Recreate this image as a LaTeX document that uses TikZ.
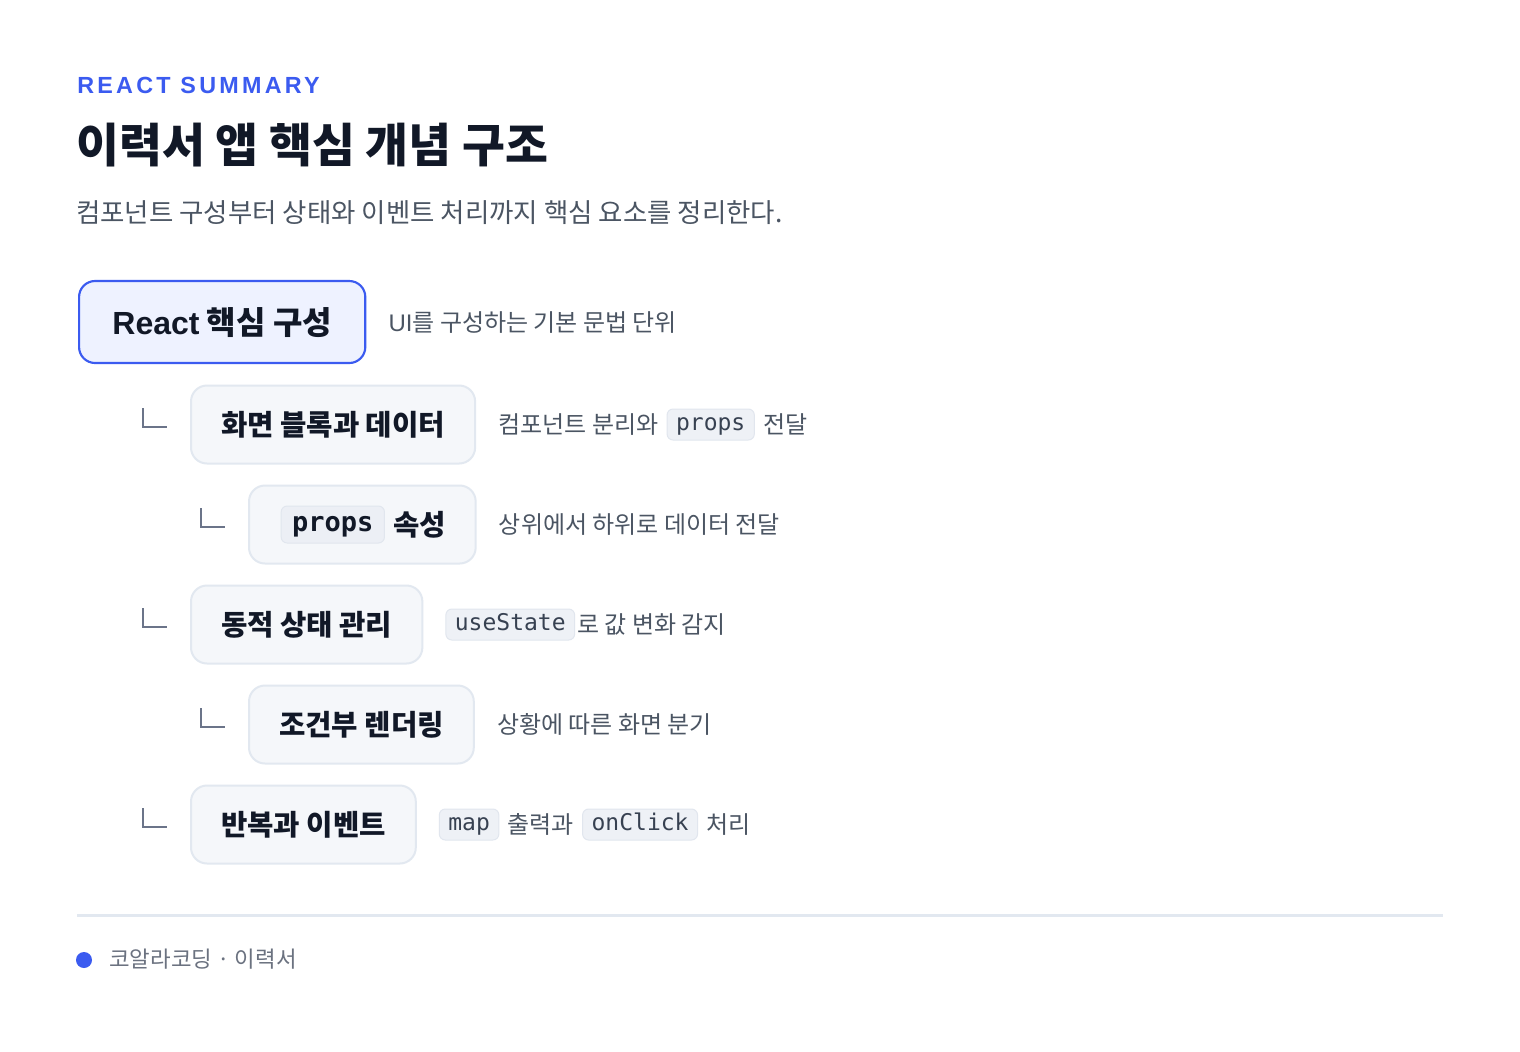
\documentclass[tikz,border=0pt]{standalone}
\usepackage{fontspec}
\setmainfont{Noto Sans CJK KR}
\setmonofont{DejaVu Sans Mono}
\newfontfamily\latinfont{Liberation Sans}
\newfontfamily\kickerfont[LetterSpace=14]{Liberation Sans}
\usetikzlibrary{positioning}

\definecolor{accent}{HTML}{3B5BF0}
\definecolor{ink}{HTML}{111827}
\definecolor{muted}{HTML}{4B5563}
\definecolor{faint}{HTML}{6B7280}
\definecolor{rootfill}{HTML}{EEF2FF}
\definecolor{boxfill}{HTML}{F5F7FA}
\definecolor{boxline}{HTML}{E2E8F0}
\definecolor{chipfill}{HTML}{EEF1F6}
\definecolor{chipline}{HTML}{E1E6EE}
\definecolor{codeink}{HTML}{374151}
\definecolor{branchline}{HTML}{6B7489}

\def\dGap{16.5pt}
\def\dSep{6pt}

\begin{document}
\begin{tikzpicture}[x=0.75pt, y=-0.75pt,
    kor/.style={inner sep=0pt, anchor=west},
    kicker/.style={kor, text height=12.5pt, text depth=0pt, text=accent,
      font=\kickerfont\bfseries\fontsize{17.5pt}{20pt}\selectfont},
    headline/.style={kor, text height=30.8pt, text depth=4.2pt, text=ink,
      font=\bfseries\fontsize{35pt}{40pt}\selectfont},
    lead/.style={kor, text height=17.5pt, text depth=2.4pt, text=muted,
      font=\fontsize{19.85pt}{24pt}\selectfont},
    desc/.style={kor, text height=15.8pt, text depth=2.2pt, text=muted,
      font=\fontsize{18pt}{22pt}\selectfont},
    foot/.style={kor, text height=14.8pt, text depth=2pt, text=faint,
      font=\fontsize{16.8pt}{20pt}\selectfont},
    rootbox/.style={draw=accent, line width=1.6pt, fill=rootfill,
      rounded corners=12pt, minimum height=61.5pt, inner xsep=25pt,
      inner ysep=0pt, anchor=west, text height=21.1pt, text depth=2.9pt,
      text=ink, font=\bfseries\fontsize{24pt}{28pt}\selectfont},
    box/.style={draw=boxline, line width=1.5pt, fill=boxfill,
      rounded corners=12pt, minimum height=58.5pt, inner xsep=22.5pt,
      inner ysep=0pt, anchor=west, text height=18.9pt, text depth=2.6pt,
      text=ink, font=\bfseries\fontsize{21.5pt}{26pt}\selectfont},
    boxtext/.style={kor, text height=18.9pt, text depth=2.6pt, text=ink,
      font=\bfseries\fontsize{21.5pt}{26pt}\selectfont},
    chip/.style={draw=chipline, line width=0.75pt, fill=chipfill,
      rounded corners=4.5pt, inner xsep=6.75pt, inner ysep=0pt,
      minimum height=23.25pt, text height=12.4pt, text depth=3.1pt,
      text=codeink, font=\ttfamily\fontsize{17.25pt}{20pt}\selectfont},
    chipb/.style={chip, fill=chipfill!80!boxline, minimum height=27.75pt,
      inner xsep=8.25pt, text height=14.6pt, text depth=3.6pt, text=ink,
      font=\ttfamily\bfseries\fontsize{20.25pt}{24pt}\selectfont},
    branch/.style={draw=branchline, line width=1.5pt},
    rule/.style={draw=boxline, line width=2.25pt},
  ]
    \fill[white] (0,0) rectangle (1520,1051);
    \useasboundingbox (0,0) rectangle (1520,1051);

    %% header
    \node[kicker]   (kicker)   at (77, 85) {REACT SUMMARY};
    \node[headline] (title)    at (76,145) {이력서 앱 핵심 개념 구조};
    \node[lead]     (subtitle) at (76,212) {컴포넌트 구성부터 상태와 이벤트 처리까지 핵심 요소를 정리한다.};

    %% boxes
    \node[rootbox] (root)  at ( 78,322) {{\latinfont React} 핵심 구성};
    \node[box]     (blk)   at (190,424.5) {화면 블록과 데이터};
    \node[box, minimum width=170pt] (props) at (248,524.5) {};
    \node[box]     (state) at (190,624.5) {동적 상태 관리};
    \node[box]     (cond)  at (248,724.5) {조건부 렌더링};
    \node[box]     (loop)  at (190,824.5) {반복과 이벤트};

    \node[chipb, right=24.5pt of props.west] (propsC) {props};
    \node[boxtext, right=\dSep of propsC]    (propsT) {속성};

    %% branch marks
    \foreach \n in {blk,props,state,cond,loop}
      \draw[branch] ([shift={(-47,-16.5)}]\n.west) |- ++(24,19);

    %% descriptions
    \node[desc, right=\dGap of root] (rootD) {{\latinfont UI}를 구성하는 기본 문법 단위};

    \node[desc, right=\dGap of blk]  (blkD1) {컴포넌트 분리와};
    \node[chip, right=\dSep of blkD1] (blkC)  {props};
    \node[desc, right=\dSep of blkC]  (blkD2) {전달};

    \node[desc, right=\dGap of props] (propsD) {상위에서 하위로 데이터 전달};

    \node[chip, right=\dGap of state] (stateC) {useState};
    \node[desc, right=1.5pt of stateC] (stateD) {로 값 변화 감지};

    \node[desc, right=\dGap of cond] (condD) {상황에 따른 화면 분기};

    \node[chip, right=\dGap of loop]  (loopC1) {map};
    \node[desc, right=\dSep of loopC1] (loopD1) {출력과};
    \node[chip, right=\dSep of loopD1] (loopC2) {onClick};
    \node[desc, right=\dSep of loopC2] (loopD2) {처리};

    %% footer
    \draw[rule] (77,915) -- (1443,915);
    \node[circle, fill=accent, minimum size=12pt, inner sep=0pt] (dot) at (84,960) {};
    \node[foot] (footT) at (109,959) {코알라코딩 · 이력서};

\end{tikzpicture}
\end{document}
